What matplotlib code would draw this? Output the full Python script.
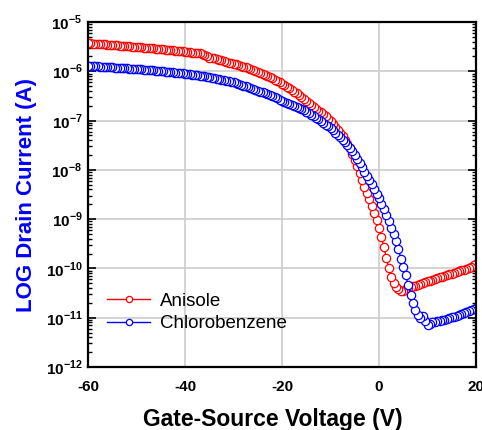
import numpy as np
import matplotlib
matplotlib.use("Agg")
import matplotlib.pyplot as plt
from matplotlib.ticker import LogLocator, FixedLocator, NullFormatter

plt.rcParams["font.family"] = ["Liberation Sans", "DejaVu Sans"]
plt.rcParams["axes.unicode_minus"] = False
plt.rcParams["mathtext.fontset"] = "custom"
plt.rcParams["mathtext.rm"] = "Liberation Sans:bold"
plt.rcParams["mathtext.bf"] = "Liberation Sans:bold"

# gate sweep -60 V .. 20 V, 0.5 V step
vg = np.arange(-60, 20.5, 0.5)

# log10 of drain current
log_anisole = [
    -5.43, -5.43, -5.44, -5.44, -5.44, -5.45, -5.45, -5.45, -5.46, -5.46,
    -5.46, -5.47, -5.47, -5.48, -5.48, -5.49, -5.49, -5.49, -5.50, -5.50,
    -5.51, -5.51, -5.51, -5.52, -5.52, -5.52, -5.53, -5.53, -5.54, -5.54,
    -5.55, -5.55, -5.56, -5.56, -5.57, -5.57, -5.58, -5.58, -5.59, -5.59,
    -5.60, -5.61, -5.61, -5.62, -5.62, -5.63, -5.63, -5.64, -5.66, -5.69,
    -5.72, -5.73, -5.74, -5.75, -5.77, -5.78, -5.80, -5.81, -5.83, -5.84,
    -5.85, -5.86, -5.88, -5.89, -5.91, -5.92, -5.94, -5.96, -5.98, -6.00,
    -6.02, -6.04, -6.06, -6.08, -6.10, -6.12, -6.14, -6.17, -6.20, -6.22,
    -6.25, -6.28, -6.31, -6.34, -6.37, -6.41, -6.44, -6.48, -6.52, -6.56,
    -6.60, -6.64, -6.68, -6.72, -6.76, -6.80, -6.83, -6.87, -6.91, -6.96,
    -7.01, -7.07, -7.13, -7.19, -7.25, -7.32, -7.39, -7.47, -7.56, -7.67,
    -7.80, -7.93, -8.07, -8.20, -8.34, -8.47, -8.60, -8.73, -8.88, -9.02,
    -9.18, -9.37, -9.57, -9.78, -9.99, -10.17, -10.30, -10.38, -10.42, -10.45,
    -10.45, -10.41, -10.39, -10.38, -10.36, -10.35, -10.33, -10.31, -10.30, -10.28,
    -10.26, -10.25, -10.24, -10.22, -10.20, -10.18, -10.17, -10.16, -10.14, -10.12,
    -10.11, -10.09, -10.07, -10.06, -10.04, -10.03, -10.01, -9.99, -9.97, -9.94,
    -9.91,
]
log_chloro = [
    -5.89, -5.89, -5.90, -5.90, -5.90, -5.91, -5.91, -5.91, -5.92, -5.92,
    -5.92, -5.93, -5.93, -5.93, -5.94, -5.94, -5.94, -5.95, -5.95, -5.95,
    -5.96, -5.96, -5.96, -5.97, -5.97, -5.98, -5.98, -5.98, -5.99, -5.99,
    -6.00, -6.00, -6.01, -6.01, -6.02, -6.02, -6.03, -6.03, -6.04, -6.04,
    -6.05, -6.06, -6.06, -6.07, -6.08, -6.08, -6.09, -6.10, -6.10, -6.11,
    -6.12, -6.13, -6.14, -6.15, -6.16, -6.17, -6.18, -6.19, -6.20, -6.21,
    -6.22, -6.23, -6.26, -6.27, -6.29, -6.30, -6.32, -6.33, -6.35, -6.37,
    -6.39, -6.41, -6.43, -6.45, -6.47, -6.49, -6.51, -6.53, -6.55, -6.58,
    -6.60, -6.62, -6.64, -6.66, -6.68, -6.70, -6.72, -6.74, -6.77, -6.79,
    -6.82, -6.85, -6.88, -6.91, -6.94, -6.97, -7.00, -7.04, -7.08, -7.12,
    -7.16, -7.20, -7.25, -7.29, -7.34, -7.39, -7.44, -7.50, -7.56, -7.62,
    -7.69, -7.77, -7.86, -7.95, -8.04, -8.12, -8.20, -8.29, -8.38, -8.48,
    -8.58, -8.69, -8.80, -8.92, -9.04, -9.17, -9.30, -9.45, -9.61, -9.80,
    -9.98, -10.14, -10.33, -10.53, -10.70, -10.84, -10.95, -11.00, -10.97, -11.07,
    -11.14, -11.12, -11.09, -11.08, -11.07, -11.06, -11.05, -11.04, -11.02, -11.01,
    -10.99, -10.98, -10.96, -10.95, -10.93, -10.91, -10.89, -10.87, -10.84, -10.82,
    -10.80,
]

x_ticks = [-60, -40, -20, 0, 20]
y_decades = [-12, -11, -10, -9, -8, -7, -6, -5]

fig = plt.figure(figsize=(4.82, 4.30), dpi=100)
ax = fig.add_axes([0.1826, 0.1465, 0.805, 0.8023])

series = [("Anisole", log_anisole, "red"), ("Chlorobenzene", log_chloro, "blue")]
for name, logi, col in series:
    cur = 10 ** np.array(logi)
    # reversed so the -60 V point ends on top, like the sweep in the picture
    ax.plot(vg[::-1], cur[::-1], "-", color=col, lw=1, marker="o", ms=6,
            mfc="white", mec=col, mew=0.9, label=name)

ax.set_yscale("log")
ax.set_xlim(-60, 20)
ax.set_ylim(1e-12, 1e-5)

ax.xaxis.set_major_locator(FixedLocator(x_ticks))
ax.set_xticklabels([str(t) for t in x_ticks], fontsize=11, fontweight="bold")
ax.yaxis.set_major_locator(FixedLocator([10.0 ** d for d in y_decades]))
ax.set_yticklabels([r"$10^{%d}$" % d for d in y_decades], fontsize=11)
ax.yaxis.set_minor_locator(LogLocator(base=10, subs=np.arange(2, 10), numticks=20))
ax.yaxis.set_minor_formatter(NullFormatter())

ax.tick_params(axis="x", which="both", length=0, pad=9)
ax.tick_params(axis="y", which="major", direction="in", left=True, right=True,
               length=6, width=1.2, pad=4)
ax.tick_params(axis="y", which="minor", direction="in", left=True, right=True,
               length=3, width=1)

ax.grid(True, which="major", color="#cccccc", lw=1.2)
ax.set_axisbelow(True)
for sp in ax.spines.values():
    sp.set_linewidth(1.6)

ax.set_xlabel("Gate-Source Voltage (V)", fontsize=16.5, fontweight="bold")
ax.xaxis.set_label_coords(0.477, -0.12)
ax.set_ylabel("LOG Drain Current (A)", fontsize=16, fontweight="bold",
              color="blue", labelpad=6)

ax.legend(loc="lower left", bbox_to_anchor=(0.03, 0.079), borderaxespad=0,
          frameon=False, fontsize=13.5, handlelength=2.3, handletextpad=0.5,
          labelspacing=0.3, markerscale=0.75)

fig.savefig("out.png", dpi=100)
